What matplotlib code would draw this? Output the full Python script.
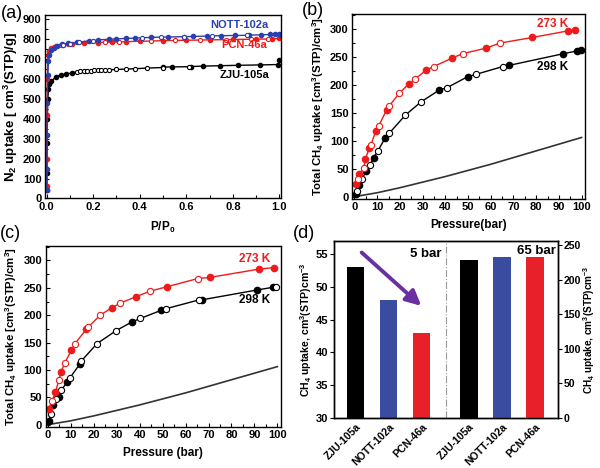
import numpy as np
import matplotlib
matplotlib.use('Agg')
import matplotlib.pyplot as plt
from matplotlib.ticker import MultipleLocator

plt.rcParams['font.family'] = ['Liberation Sans', 'DejaVu Sans']
plt.rcParams['font.weight'] = 'bold'
plt.rcParams['axes.labelweight'] = 'bold'
plt.rcParams['mathtext.fontset'] = 'custom'
plt.rcParams['mathtext.rm'] = 'Liberation Sans:bold'
plt.rcParams['mathtext.bf'] = 'Liberation Sans:bold'
plt.rcParams['mathtext.it'] = 'Liberation Sans:bold'
plt.rcParams['axes.linewidth'] = 1.0

# ---------------- (a) N2 isotherms ----------------
nott_ads_p = [0.0005, 0.001, 0.002, 0.003, 0.005, 0.008, 0.012, 0.02, 0.03, 0.045, 0.065, 0.09,
              0.13, 0.18, 0.22, 0.27, 0.30, 0.34, 0.38, 0.45, 0.52, 0.59, 0.63, 0.69, 0.75, 0.81,
              0.87, 0.92, 0.96, 0.98, 1.0]
nott_ads_v = [40, 150, 320, 480, 620, 690, 720, 745, 758, 768, 775, 781, 786, 792, 797, 800, 802,
              804, 806, 809, 811, 813, 814, 816, 818, 819, 821, 822, 824, 825, 826]
nott_des_p = [0.07, 0.1, 0.14, 0.2, 0.41, 0.49, 0.59, 0.71, 0.86]
nott_des_v = [772, 778, 785, 793, 808, 811, 813, 817, 820]

pcn_ads_p = [0.0005, 0.001, 0.002, 0.003, 0.005, 0.01, 0.02, 0.04, 0.07, 0.11, 0.16, 0.22, 0.28,
             0.34, 0.4, 0.5, 0.6, 0.7, 0.8, 0.9, 0.97, 1.0]
pcn_ads_v = [60, 200, 420, 600, 720, 742, 755, 765, 772, 777, 780, 783, 786, 788, 790, 793, 795,
             797, 799, 801, 802, 804]
pcn_des_p = [0.03, 0.06, 0.09, 0.25, 0.31, 0.45, 0.55, 0.66, 0.77, 0.88, 0.95]
pcn_des_v = [762, 771, 776, 785, 787, 791, 794, 796, 798, 800, 801]

zju_ads_p = [0.0005, 0.001, 0.002, 0.003, 0.005, 0.008, 0.012, 0.02, 0.04, 0.06, 0.085, 0.11,
             0.5, 0.54, 0.62, 0.67, 0.745, 0.82, 0.917, 0.995, 1.0]
zju_ads_v = [40, 130, 280, 400, 500, 550, 575, 590, 610, 620, 626, 631, 660, 661, 663, 665, 667,
             669, 671, 673, 698]
zju_des_p = [0.13, 0.145, 0.16, 0.175, 0.19, 0.205, 0.22, 0.235, 0.25, 0.27, 0.3, 0.34, 0.38,
             0.43, 0.5, 0.61]
zju_des_v = [636, 638, 640, 641, 642, 643, 644, 645, 646, 647, 648, 650, 652, 655, 658, 662]

# ---------------- (b) CH4 isotherms ----------------
b273_fill_p = [0.8, 2.2, 4.8, 6.5, 9.4, 14.2, 23.9, 31.7, 42.9, 58, 78.3, 94.2, 97.1]
b273_fill_v = [22, 40, 67, 87, 118, 156, 202, 227, 248, 266, 285, 297, 298]
b273_open_p = [1.5, 4.1, 7.3, 10.6, 15.2, 19.7, 26.5, 34.9, 47.6, 64.1]
b273_open_v = [32, 52, 93, 126, 162, 185, 210, 233, 256, 275]
b298_fill_p = [0.5, 2.2, 5.1, 8.4, 13.5, 37.4, 49.9, 68, 92, 98.1, 99.6]
b298_fill_v = [5, 20, 46, 70, 105, 191, 215, 235, 256, 261, 262]
b298_open_p = [1.2, 3.3, 7, 10.3, 15.4, 22.4, 29.4, 40.7, 53.5, 65.3]
b298_open_v = [10, 31, 57, 82, 114, 146, 170, 195, 219, 233]

# ---------------- (c) CH4 isotherms ----------------
c273_fill_p = [0.4, 3.3, 5.8, 10.2, 16.7, 28, 38.5, 51.9, 70.5, 91.8, 98.4]
c273_fill_v = [28, 59, 97, 136, 174, 214, 234, 252, 269, 284, 287]
c273_open_p = [1.9, 4.8, 7.3, 11.6, 17.5, 22.8, 31.5, 44.6, 65.4]
c273_open_v = [44, 82, 112, 147, 178, 200, 222, 244, 267]
c298_fill_p = [0.4, 2.4, 4.8, 8.3, 13.8, 36.8, 49.4, 67, 91.1, 98.1]
c298_fill_v = [7, 35, 50, 77, 110, 188, 209, 228, 246, 251]
c298_open_p = [1.4, 3.6, 5.8, 9.7, 14.5, 21.4, 29.8, 40.3, 51.6, 65.9, 99.6]
c298_open_v = [19, 47, 63, 86, 116, 148, 172, 194, 212, 228, 252]

# bulk gas line
bulk_p = [0, 10, 20, 30, 40, 50, 60, 70, 80, 90, 100]
bulk_v = [0, 7, 16, 26, 36, 47, 58, 70, 82, 94, 106]

# ---------------- (d) bars ----------------
mofs = ['ZJU-105a', 'NOTT-102a', 'PCN-46a']
uptake_5bar = [53, 48, 43]
uptake_65bar = [228, 233, 233]
bar_colors = ['#000000', '#3a4ca0', '#e8202a']

fig = plt.figure(figsize=(6, 4.68), dpi=100)

tick_fs = 8
lab_fs = 8.5


def style(ax):
    ax.tick_params(direction='in', which='both', labelsize=tick_fs, top=False, right=False, pad=2.5)
    ax.tick_params(which='major', length=3, width=0.8)
    ax.tick_params(which='minor', length=2, width=0.8)
    for t in ax.get_xticklabels() + ax.get_yticklabels():
        t.set_fontweight('bold')


def merged(p1, v1, p2, v2):
    p = np.array(p1 + p2)
    v = np.array(v1 + v2)
    o = np.argsort(p)
    return p[o], v[o]


def iso(ax, fp, fv, op, ov, color, ms):
    p, v = merged(fp, fv, op, ov)
    ax.plot(p, v, '-', color=color, lw=1.0)
    ax.plot(fp, fv, 'o', color=color, ms=ms, mec=color)
    ax.plot(op, ov, 'o', color=color, ms=ms, mfc='white', mec=color, mew=0.8)


# (a)
ax = fig.add_axes([0.075, 0.576, 0.393, 0.392])
iso(ax, zju_ads_p, zju_ads_v, zju_des_p, zju_des_v, 'black', 3)
iso(ax, pcn_ads_p, pcn_ads_v, pcn_des_p, pcn_des_v, '#f01a1a', 3)
iso(ax, nott_ads_p, nott_ads_v, nott_des_p, nott_des_v, '#2a3fb0', 3)
ax.set_xlim(-0.007, 1.006)
ax.set_ylim(0, 922)
ax.xaxis.set_major_locator(MultipleLocator(0.2))
ax.xaxis.set_minor_locator(MultipleLocator(0.1))
ax.yaxis.set_major_locator(MultipleLocator(100))
ax.yaxis.set_minor_locator(MultipleLocator(50))
ax.xaxis.set_major_formatter(plt.FormatStrFormatter('%.1f'))
style(ax)
ax.set_xlabel('P/P$_0$', fontsize=lab_fs, labelpad=6)
ax.set_ylabel('N$_2$ uptake [ cm$^3$(STP)/g]', fontsize=9.5, labelpad=2)
ax.text(0.955, 870, 'NOTT-102a', color='#2a3fb0', fontsize=tick_fs, fontweight='bold', ha='right', va='center')
ax.text(0.947, 769, 'PCN-46a', color='#f01a1a', fontsize=tick_fs, fontweight='bold', ha='right', va='center')
ax.text(0.955, 618, 'ZJU-105a', color='black', fontsize=tick_fs, fontweight='bold', ha='right', va='center')


def ch4_panel(rect, f273p, f273v, o273p, o273v, f298p, f298v, o298p, o298v, xlabel, l273, l298):
    ax = fig.add_axes(rect)
    ax.plot(bulk_p, bulk_v, '-', color='#333333', lw=1.2)
    iso(ax, f298p, f298v, o298p, o298v, 'black', 4.5)
    iso(ax, f273p, f273v, o273p, o273v, '#f01a1a', 4.5)
    ax.set_xlim(-1, 101.5)
    ax.set_ylim(-4, 327)
    ax.xaxis.set_major_locator(MultipleLocator(10))
    ax.xaxis.set_minor_locator(MultipleLocator(5))
    ax.yaxis.set_major_locator(MultipleLocator(50))
    ax.yaxis.set_minor_locator(MultipleLocator(25))
    style(ax)
    ax.set_xlabel(xlabel, fontsize=lab_fs, labelpad=5)
    ax.set_ylabel('Total CH$_4$ uptake [cm$^3$(STP)/cm$^3$]', fontsize=8.2, labelpad=3)
    ax.text(l273[0], l273[1], '273 K', color='#f01a1a', fontsize=8.5, fontweight='bold', ha='right', va='center')
    ax.text(l298[0], l298[1], '298 K', color='black', fontsize=8.5, fontweight='bold', ha='right', va='center')
    return ax


ch4_panel([0.587, 0.575, 0.388, 0.395], b273_fill_p, b273_fill_v, b273_open_p, b273_open_v,
          b298_fill_p, b298_fill_v, b298_open_p, b298_open_v, 'Pressure(bar)', (94, 310), (94, 233))
ch4_panel([0.076, 0.088, 0.392, 0.387], c273_fill_p, c273_fill_v, c273_open_p, c273_open_v,
          c298_fill_p, c298_fill_v, c298_open_p, c298_open_v, 'Pressure (bar)', (97, 303), (97, 227))

# (d)
axd = fig.add_axes([0.557, 0.107, 0.373, 0.377])
axr = axd.twinx()
xl = np.array([0, 1, 2])
xr = np.array([3.43, 4.43, 5.43])
axd.bar(xl, uptake_5bar, width=0.52, color=bar_colors)
axr.bar(xr, uptake_65bar, width=0.54, color=bar_colors)
axd.set_xlim(-0.65, 6.13)
axd.set_ylim(30, 56.9)
axr.set_ylim(0, 255)
axd.yaxis.set_major_locator(MultipleLocator(5))
axr.yaxis.set_major_locator(MultipleLocator(50))
axd.set_xticks(list(xl) + list(xr))
axd.set_xticklabels(mofs + mofs, rotation=45, ha='right', rotation_mode='anchor')
axd.tick_params(axis='x', length=0, labelsize=7.6, pad=2.5)
axd.tick_params(axis='y', direction='out', length=3, width=0.8, labelsize=tick_fs, pad=1.5)
axr.tick_params(axis='y', direction='out', length=3, width=0.8, labelsize=7.6, pad=1.2)
for t in axd.get_xticklabels() + axd.get_yticklabels() + axr.get_yticklabels():
    t.set_fontweight('bold')
axd.axvline(2.73, color='#999999', lw=0.8, ls='-.')
axd.set_ylabel('CH$_4$ uptake, cm$^3$(STP)cm$^{-3}$', fontsize=7.6, labelpad=1)
axr.set_ylabel('CH$_4$ uptake, cm$^3$(STP)cm$^{-3}$', fontsize=7.2)
axr.yaxis.set_label_coords(1.104, 0.5)
axd.text(2.6, 55.0, '5 bar', fontsize=9.5, fontweight='bold', ha='right', va='center')
axd.text(6.08, 55.4, '65 bar', fontsize=9.5, fontweight='bold', ha='right', va='center')
axd.annotate('', xy=(2.05, 46.8), xytext=(0.12, 55.5),
             arrowprops=dict(arrowstyle='-|>,head_width=0.45,head_length=0.9', color='#6a2fa0', lw=2.8))

# panel letters
for lbl, x, y in [('(a)', 0.002, 0.972), ('(b)', 0.503, 0.978), ('(c)', 0.0, 0.502), ('(d)', 0.488, 0.502)]:
    fig.text(x, y, lbl, fontsize=13, fontweight='normal', ha='left', va='center',
             family=['Liberation Sans', 'DejaVu Sans'])

fig.savefig('out.png', dpi=100)
